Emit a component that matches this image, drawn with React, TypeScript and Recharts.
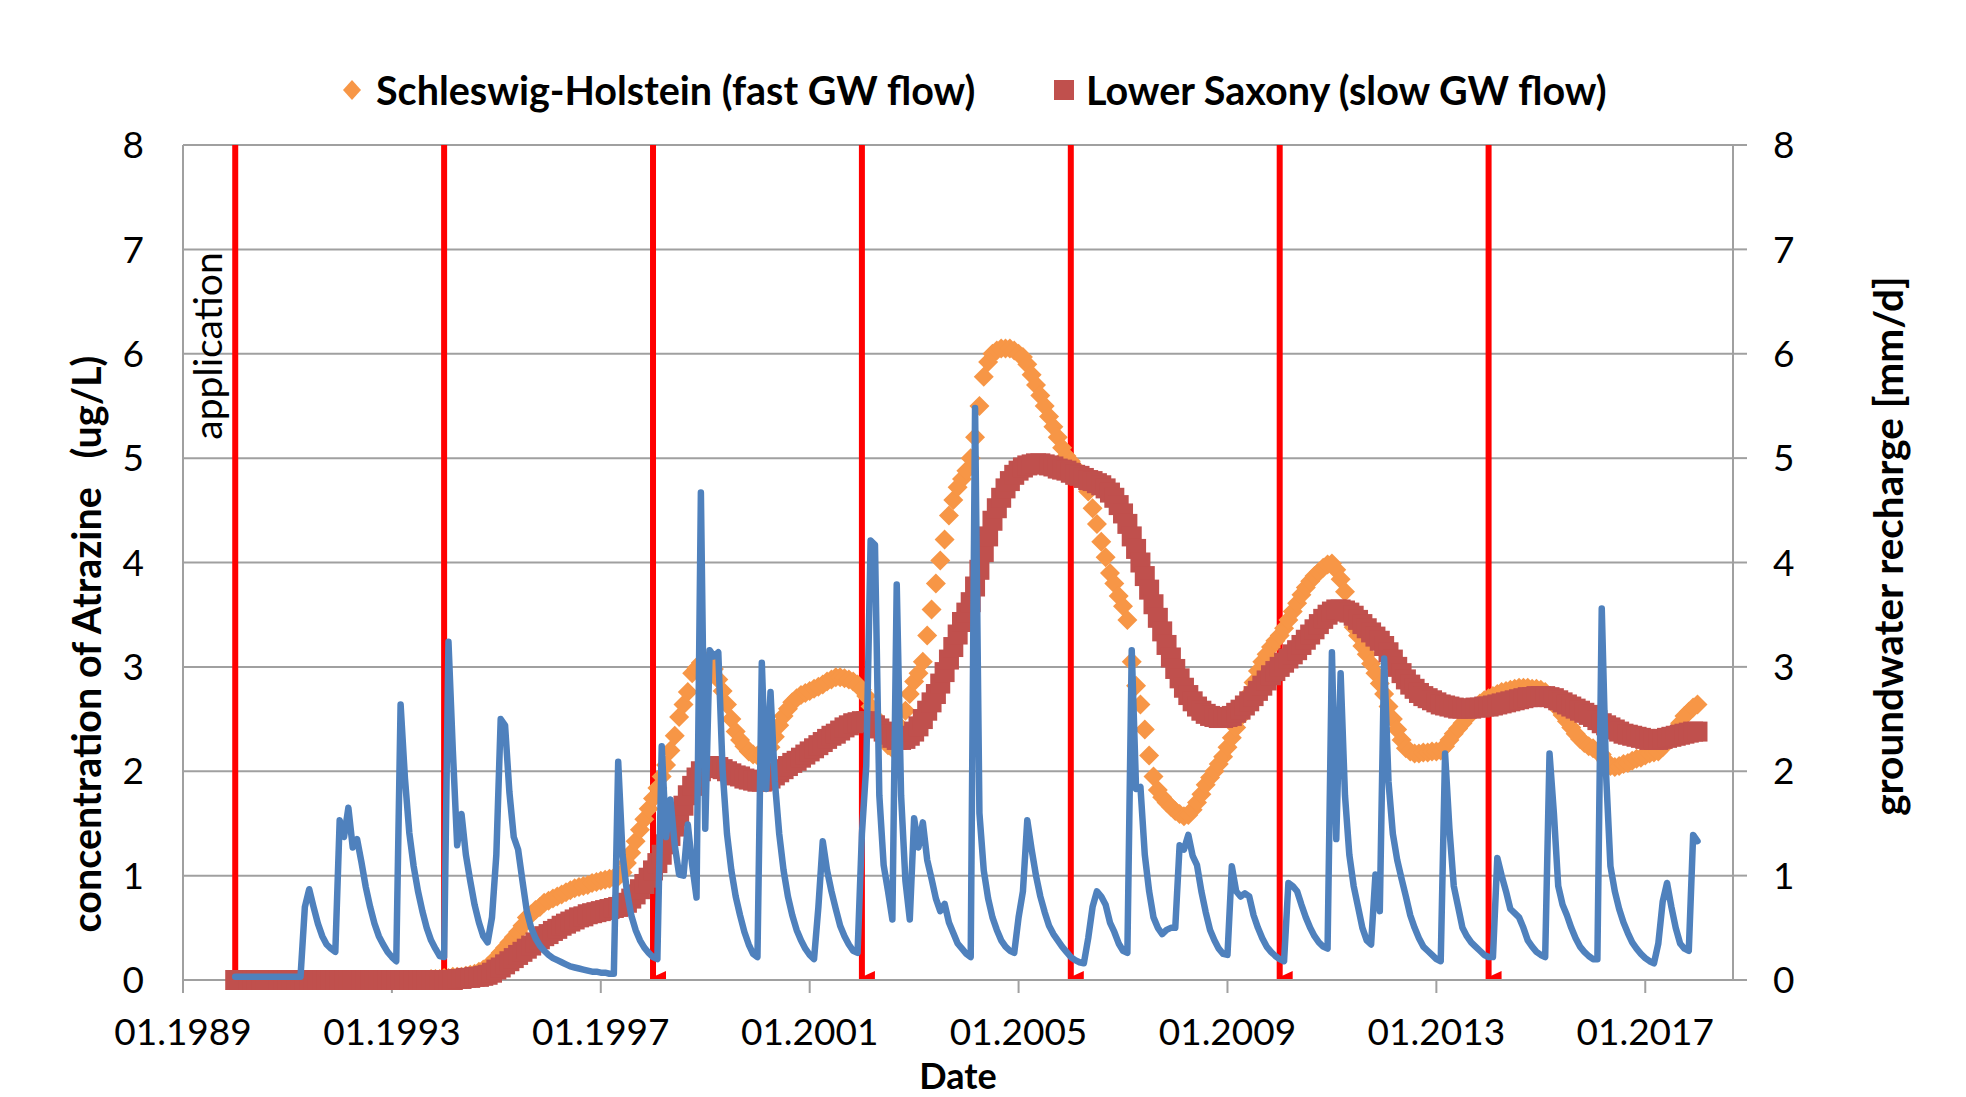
import React from 'react'
import {
  ComposedChart,
  Line,
  XAxis,
  YAxis,
  CartesianGrid,
  ReferenceLine,
  Label,
} from 'recharts'

// monthly values, first point = 01.1990, one row per year, last point = 01.2018
const START_YEAR = 1990

// Schleswig-Holstein (fast GW flow), atrazine ug/L
const SH_FAST = [
  0, 0, 0, 0, 0, 0, 0, 0, 0, 0, 0, 0,
  0, 0, 0, 0, 0, 0, 0, 0, 0, 0, 0, 0,
  0, 0, 0, 0, 0, 0, 0, 0, 0, 0, 0, 0,
  0, 0, 0, 0, 0, 0, 0, 0, 0, 0.01, 0.01, 0.01,
  0.02, 0.02, 0.03, 0.03, 0.03, 0.04, 0.05, 0.06, 0.08, 0.1, 0.13, 0.17,
  0.21, 0.26, 0.31, 0.36, 0.41, 0.46, 0.52, 0.6, 0.63, 0.67, 0.7, 0.74,
  0.76, 0.78, 0.8, 0.82, 0.84, 0.86, 0.88, 0.89, 0.9, 0.91, 0.93, 0.94,
  0.95, 0.96, 0.97, 0.98, 0.99, 1.03, 1.12, 1.22, 1.33, 1.44, 1.54, 1.64,
  1.74, 1.84, 1.95, 2.06, 2.2, 2.34, 2.52, 2.64, 2.76, 2.94, 2.99, 3.04,
  3.06, 3.04, 2.98, 2.88, 2.77, 2.64, 2.5, 2.38, 2.3, 2.24, 2.19, 2.16,
  2.15, 2.16, 2.19, 2.23, 2.33, 2.44, 2.53, 2.6, 2.66, 2.7, 2.73, 2.75,
  2.77, 2.79, 2.81, 2.83, 2.86, 2.88, 2.9, 2.9, 2.89, 2.88, 2.86, 2.83,
  2.78, 2.72, 2.62, 2.52, 2.42, 2.33, 2.25, 2.22, 2.3, 2.42, 2.58, 2.74,
  2.86, 2.94, 3.05, 3.3, 3.55, 3.8, 4.02, 4.22, 4.45, 4.6, 4.72, 4.8,
  4.88, 5.0, 5.2, 5.5, 5.78, 5.92, 6.0, 6.03, 6.05, 6.05, 6.05, 6.03,
  6.0, 5.97, 5.9, 5.8, 5.7, 5.6, 5.5, 5.4, 5.3, 5.2, 5.1, 5.02,
  4.97, 4.91, 4.85, 4.78, 4.68, 4.52, 4.37, 4.2, 4.05, 3.9, 3.8, 3.68,
  3.58, 3.45, 3.05, 2.82, 2.64, 2.4, 2.15, 1.95, 1.82, 1.75, 1.7, 1.66,
  1.62, 1.59, 1.57, 1.58, 1.63, 1.7, 1.78, 1.87, 1.94, 2.0, 2.07, 2.14,
  2.23, 2.32, 2.42, 2.52, 2.63, 2.74, 2.85, 2.96, 3.05, 3.12, 3.19, 3.25,
  3.3, 3.37, 3.45, 3.53, 3.61, 3.69, 3.76, 3.82, 3.87, 3.91, 3.95, 3.98,
  3.99, 3.93, 3.84, 3.72, 3.5, 3.38, 3.3, 3.2, 3.12, 3.03, 2.94, 2.84,
  2.74, 2.62, 2.5, 2.4, 2.3, 2.22, 2.19, 2.17, 2.17, 2.18, 2.18, 2.19,
  2.19, 2.2, 2.24, 2.3, 2.36, 2.41, 2.46, 2.51, 2.56, 2.61, 2.65, 2.68,
  2.7, 2.72, 2.74, 2.76, 2.77, 2.78, 2.79, 2.8, 2.8, 2.8, 2.79, 2.79,
  2.78, 2.76, 2.72, 2.67, 2.6, 2.54, 2.48, 2.42, 2.36, 2.31, 2.27, 2.24,
  2.22, 2.19, 2.16, 2.1, 2.05, 2.04, 2.05, 2.07, 2.08, 2.1, 2.12, 2.13,
  2.15, 2.17, 2.18, 2.19, 2.23, 2.28, 2.34, 2.4, 2.46, 2.53, 2.57, 2.61,
  2.64,
]

// Lower Saxony (slow GW flow), atrazine ug/L
const LS_SLOW = [
  0, 0, 0, 0, 0, 0, 0, 0, 0, 0, 0, 0,
  0, 0, 0, 0, 0, 0, 0, 0, 0, 0, 0, 0,
  0, 0, 0, 0, 0, 0, 0, 0, 0, 0, 0, 0,
  0, 0, 0, 0, 0, 0, 0, 0, 0, 0, 0, 0,
  0, 0, 0, 0.01, 0.01, 0.02, 0.02, 0.03, 0.03, 0.04, 0.05, 0.07,
  0.1, 0.12, 0.15, 0.18, 0.21, 0.24, 0.27, 0.3, 0.33, 0.36, 0.39, 0.42,
  0.44, 0.47, 0.49, 0.52, 0.54, 0.56, 0.58, 0.6, 0.61, 0.63, 0.64, 0.65,
  0.66, 0.67, 0.68, 0.69, 0.7, 0.72, 0.74, 0.78, 0.82, 0.87, 0.92, 0.98,
  1.05, 1.12, 1.2, 1.3, 1.38, 1.47, 1.57, 1.67, 1.77, 1.86, 1.94, 2.0,
  2.03, 2.05, 2.05, 2.04, 2.02, 2.0, 1.98, 1.96, 1.95, 1.93, 1.92, 1.91,
  1.9, 1.9, 1.91, 1.93, 1.96, 1.99, 2.02, 2.05, 2.08, 2.1, 2.13, 2.16,
  2.19, 2.22, 2.25, 2.28, 2.31, 2.34, 2.36, 2.39, 2.42, 2.44, 2.46, 2.47,
  2.48, 2.48, 2.47, 2.44, 2.41, 2.38, 2.35, 2.32, 2.3, 2.3, 2.31, 2.34,
  2.38, 2.43, 2.5, 2.58, 2.66, 2.74, 2.84, 2.95, 3.07, 3.19, 3.31, 3.43,
  3.52, 3.62, 3.77, 3.93, 4.1, 4.25, 4.4, 4.52, 4.62, 4.71, 4.78, 4.84,
  4.88, 4.91, 4.93, 4.94, 4.95, 4.95, 4.94, 4.93, 4.92, 4.9, 4.89, 4.88,
  4.86, 4.84, 4.83, 4.81, 4.79, 4.78, 4.76, 4.74, 4.71, 4.67, 4.62, 4.55,
  4.47, 4.37, 4.25, 4.13, 4.0, 3.87, 3.74, 3.6, 3.47, 3.34, 3.21, 3.09,
  2.98, 2.89, 2.8, 2.73, 2.67, 2.62, 2.58, 2.55, 2.53, 2.52, 2.51, 2.51,
  2.52, 2.53, 2.56, 2.59, 2.63, 2.67, 2.72, 2.77, 2.82, 2.87, 2.92, 2.96,
  3.0, 3.04, 3.08, 3.12, 3.16, 3.21, 3.26, 3.31, 3.36, 3.41, 3.46, 3.5,
  3.53, 3.55, 3.55, 3.54, 3.52, 3.49, 3.45, 3.41, 3.37, 3.33, 3.29, 3.25,
  3.2, 3.14, 3.07, 3.0, 2.94, 2.88, 2.83, 2.79, 2.75, 2.72, 2.7, 2.68,
  2.66, 2.64, 2.63, 2.62, 2.61, 2.6, 2.6, 2.6, 2.6, 2.61, 2.61, 2.62,
  2.62, 2.63, 2.64, 2.65, 2.66, 2.67, 2.68, 2.69, 2.7, 2.71, 2.71, 2.72,
  2.72, 2.72, 2.71, 2.7, 2.68, 2.66, 2.64, 2.62, 2.6, 2.58, 2.56, 2.54,
  2.52, 2.49, 2.46, 2.44, 2.42, 2.4, 2.38, 2.36, 2.35, 2.34, 2.33, 2.32,
  2.31, 2.3, 2.3, 2.3, 2.31, 2.32, 2.33, 2.34, 2.35, 2.36, 2.37, 2.38,
  2.38,
]

// groundwater recharge, mm/d (right axis)
const GW_RECHARGE = [
  0.03, 0.03, 0.03, 0.03, 0.03, 0.03, 0.03, 0.03, 0.03, 0.03, 0.03, 0.03,
  0.03, 0.03, 0.03, 0.03, 0.7, 0.87, 0.7, 0.54, 0.42, 0.34, 0.3, 0.27,
  1.53, 1.37, 1.65, 1.27, 1.35, 1.13, 0.89, 0.7, 0.54, 0.42, 0.34, 0.27,
  0.22, 0.18, 2.64, 1.93, 1.41, 1.09, 0.85, 0.66, 0.5, 0.38, 0.3, 0.23,
  0.22, 3.24, 2.2, 1.29, 1.59, 1.2, 0.95, 0.72, 0.55, 0.42, 0.36, 0.6,
  1.2, 2.5, 2.44, 1.8, 1.37, 1.25, 0.95, 0.66, 0.5, 0.4, 0.33, 0.28,
  0.24, 0.21, 0.19, 0.17, 0.15, 0.13, 0.12, 0.11, 0.1, 0.09, 0.08, 0.08,
  0.07, 0.07, 0.06, 0.06, 2.09, 1.2, 0.85, 0.62, 0.48, 0.38, 0.31, 0.26,
  0.22, 0.2, 2.24, 1.37, 1.73, 1.29, 1.01, 1.0, 1.49, 1.1, 0.79, 4.67,
  1.45, 3.16, 3.1, 3.14, 2.0, 1.4, 1.05, 0.8, 0.62, 0.46, 0.34, 0.25,
  0.22, 3.04, 1.83, 2.76, 1.9, 1.4, 1.05, 0.8, 0.62, 0.48, 0.38, 0.3,
  0.24, 0.2, 0.7, 1.33, 1.05, 0.85, 0.68, 0.52, 0.42, 0.34, 0.28, 0.26,
  1.4, 2.05, 4.21, 4.17, 1.77, 1.1, 0.85, 0.58, 3.79, 1.77, 0.95, 0.58,
  1.55, 1.27, 1.51, 1.15, 0.97, 0.78, 0.66, 0.73, 0.55, 0.45, 0.35, 0.3,
  0.25, 0.22, 5.48, 1.6, 1.05, 0.78, 0.6, 0.48, 0.38, 0.32, 0.28, 0.26,
  0.6, 0.85, 1.53, 1.25, 1.0, 0.8, 0.65, 0.52, 0.44, 0.38, 0.32, 0.27,
  0.22, 0.19, 0.17, 0.16, 0.4, 0.7, 0.85, 0.8, 0.72, 0.55, 0.46, 0.35,
  0.28, 0.26, 3.16, 1.83, 1.85, 1.2, 0.85, 0.6, 0.5, 0.44, 0.48, 0.5,
  0.5, 1.29, 1.25, 1.39, 1.19, 1.1, 0.85, 0.65, 0.48, 0.38, 0.3, 0.25,
  0.24, 1.09, 0.85, 0.8, 0.83, 0.8, 0.62, 0.5, 0.4, 0.32, 0.27, 0.23,
  0.2, 0.18, 0.93, 0.9, 0.85, 0.72, 0.6, 0.5, 0.42, 0.36, 0.32, 0.3,
  3.14, 1.35, 2.94, 1.77, 1.2, 0.9, 0.7, 0.5, 0.38, 0.34, 1.01, 0.66,
  3.08, 1.9, 1.4, 1.15, 0.97, 0.8, 0.62, 0.5, 0.4, 0.32, 0.28, 0.24,
  0.2, 0.18, 2.17, 1.45, 0.9, 0.7, 0.5, 0.42, 0.36, 0.32, 0.28, 0.24,
  0.22, 0.22, 1.17, 1.0, 0.85, 0.68, 0.64, 0.6, 0.5, 0.38, 0.32, 0.27,
  0.24, 0.22, 2.17, 1.6, 0.9, 0.72, 0.62, 0.5, 0.4, 0.32, 0.27, 0.23,
  0.2, 0.2, 3.56, 1.97, 1.09, 0.85, 0.68, 0.55, 0.45, 0.36, 0.3, 0.25,
  0.21, 0.18, 0.16, 0.35, 0.75, 0.93, 0.7, 0.5, 0.35, 0.3, 0.28, 1.39,
  1.33,
]

// atrazine applications (January of these years)
const APPLICATION_YEARS = [1990, 1994, 1998, 2002, 2006, 2010, 2014]

const X_TICKS = [1989, 1993, 1997, 2001, 2005, 2009, 2013, 2017]
const Y_TICKS = [0, 1, 2, 3, 4, 5, 6, 7, 8]

const W = 1966
const H = 1097
const FONT = 'Lato, "DejaVu Sans", sans-serif'
const GRID = '#A0A0A0'
const ORANGE = '#F79646'
const BROWN = '#C0504D'
const BLUE = '#4F81BD'
const RED = '#FF0000'

const renderDiamond = (p: any) => {
  const { cx, cy, index } = p
  if (cx == null || cy == null) return <g key={`sh-${index}`} />
  const r = 10
  return (
    <path
      key={`sh-${index}`}
      d={`M${cx},${cy - r}L${cx + r},${cy}L${cx},${cy + r}L${cx - r},${cy}Z`}
      fill={ORANGE}
    />
  )
}

const renderSquare = (p: any) => {
  const { cx, cy, index } = p
  if (cx == null || cy == null) return <g key={`ls-${index}`} />
  return <rect key={`ls-${index}`} x={cx - 10} y={cy - 10} width={20} height={20} fill={BROWN} />
}

// red application line with the little flag at its foot
const renderAppLine = (p: any) => {
  const { x1, y1, y2 } = p
  const top = Math.min(y1, y2)
  const bot = Math.max(y1, y2)
  return (
    <g>
      <line x1={x1} y1={top} x2={x1} y2={bot} stroke={RED} strokeWidth={6} />
      <path d={`M${x1 + 2},${bot} L${x1 + 13},${bot} L${x1 + 13},${bot - 9} L${x1 + 2},${bot - 4} Z`} fill={RED} />
    </g>
  )
}

const appLabel = (p: any) => {
  const x = p.viewBox.x - 28
  const y = 346
  return (
    <text x={x} y={y} transform={`rotate(-90 ${x} ${y})`} textAnchor="middle" dominantBaseline="central"
      fontFamily={FONT} fontSize={39} fill="#000">
      application
    </text>
  )
}

const leftTitle = () => (
  <text x={85} y={644} transform="rotate(-90 85 644)" textAnchor="middle" dominantBaseline="central"
    fontFamily={FONT} fontWeight={700} fontSize={39.5} fill="#000">
    {'concentration of Atrazine\u00A0\u00A0\u00A0(ug/L)'}
  </text>
)

const rightTitle = () => (
  <text x={1887} y={546} transform="rotate(-90 1887 546)" textAnchor="middle" dominantBaseline="central"
    fontFamily={FONT} fontWeight={700} fontSize={40.5} fill="#000">
    groundwater recharge [mm/d]
  </text>
)

const bottomTitle = () => (
  <text x={958} y={1089} textAnchor="middle" fontFamily={FONT} fontWeight={700} fontSize={36} fill="#000">
    Date
  </text>
)

function ChartLegend() {
  const text = { position: 'absolute' as const, top: 67, fontFamily: FONT, fontWeight: 700, fontSize: 39.5, lineHeight: '46px', whiteSpace: 'nowrap' as const }
  return (
    <>
      <svg style={{ position: 'absolute', left: 0, top: 0 }} width={W} height={140}>
        <path d="M352,80L361,90L352,100L343,90Z" fill={ORANGE} />
        <rect x={1054} y={80} width={20} height={20} fill={BROWN} />
      </svg>
      <div style={{ ...text, left: 376 }}>Schleswig-Holstein (fast GW flow)</div>
      <div style={{ ...text, left: 1086 }}>Lower Saxony (slow GW flow)</div>
    </>
  )
}

export default function App() {
  const data = SH_FAST.map((v, i) => ({
    t: START_YEAR + i / 12,
    sh: v,
    ls: LS_SLOW[i],
    gw: GW_RECHARGE[i],
  }))

  const tick = { fill: '#000', fontSize: 37, fontFamily: FONT }

  return (
    <div style={{ position: 'absolute', left: 0, top: 0, width: W, height: H, background: '#fff' }}>
      <ComposedChart width={W} height={H} data={data} margin={{ top: 145, right: 153, bottom: 37, left: 123 }}>
        <CartesianGrid vertical={false} yAxisId="left" stroke={GRID} strokeWidth={2} />
        <XAxis
          type="number"
          dataKey="t"
          domain={[1989, 2018.68]}
          ticks={X_TICKS}
          interval={0}
          allowDataOverflow
          tickFormatter={(t: number) => `01.${t}`}
          height={80}
          tickSize={13}
          tickMargin={26}
          axisLine={{ stroke: GRID, strokeWidth: 2 }}
          tickLine={{ stroke: GRID, strokeWidth: 2 }}
          tick={tick}
        >
          <Label content={bottomTitle} />
        </XAxis>
        <YAxis
          yAxisId="left"
          domain={[0, 8]}
          ticks={Y_TICKS}
          interval={0}
          width={60}
          tickSize={0}
          tickMargin={39}
          tickLine={false}
          axisLine={{ stroke: GRID, strokeWidth: 2 }}
          tick={tick}
        >
          <Label content={leftTitle} />
        </YAxis>
        <YAxis
          yAxisId="right"
          orientation="right"
          domain={[0, 8]}
          ticks={Y_TICKS}
          interval={0}
          width={80}
          tickSize={14}
          tickMargin={26}
          tickLine={{ stroke: GRID, strokeWidth: 2 }}
          axisLine={{ stroke: GRID, strokeWidth: 2 }}
          tick={tick}
        >
          <Label content={rightTitle} />
        </YAxis>

        {APPLICATION_YEARS.map((yr, i) => (
          <ReferenceLine
            key={yr}
            x={yr}
            yAxisId="left"
            stroke={RED}
            strokeWidth={6}
            shape={renderAppLine}
            label={i === 0 ? appLabel : undefined}
          />
        ))}

        <Line
          yAxisId="left"
          dataKey="sh"
          name="Schleswig-Holstein (fast GW flow)"
          stroke="none"
          dot={renderDiamond}
          activeDot={false}
          isAnimationActive={false}
        />
        <Line
          yAxisId="left"
          dataKey="ls"
          name="Lower Saxony (slow GW flow)"
          stroke="none"
          dot={renderSquare}
          activeDot={false}
          isAnimationActive={false}
        />
        <Line
          yAxisId="right"
          dataKey="gw"
          name="groundwater recharge"
          type="linear"
          stroke={BLUE}
          strokeWidth={6.5}
          strokeLinejoin="round"
          strokeLinecap="round"
          dot={false}
          activeDot={false}
          isAnimationActive={false}
          {...({ zIndex: 1500 } as any)}
        />
      </ComposedChart>
      <ChartLegend />
    </div>
  )
}
